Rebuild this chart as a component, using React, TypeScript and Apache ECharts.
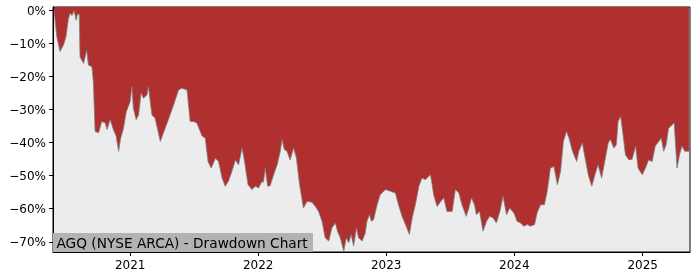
import React, { useEffect, useRef } from "react";
import * as echarts from "echarts";

const dates: string[] = [
  "2020-05-29","2020-06-06","2020-06-15","2020-06-25","2020-07-02","2020-07-09","2020-07-14","2020-07-19","2020-07-25","2020-07-31",
  "2020-08-04","2020-08-09","2020-08-11","2020-08-21","2020-08-30","2020-09-04","2020-09-14","2020-09-18","2020-09-23","2020-10-03",
  "2020-10-12","2020-10-22","2020-10-27","2020-11-05","2020-11-14","2020-11-22","2020-11-29","2020-12-05","2020-12-13","2020-12-21",
  "2021-01-01","2021-01-06","2021-01-10","2021-01-18","2021-01-25","2021-02-01","2021-02-08","2021-02-18","2021-02-22","2021-03-04",
  "2021-03-13","2021-03-28","2021-04-06","2021-04-20","2021-05-05","2021-05-19","2021-05-28","2021-06-12","2021-06-21","2021-07-01",
  "2021-07-10","2021-07-25","2021-08-03","2021-08-11","2021-08-20","2021-09-01","2021-09-10","2021-09-20","2021-09-29","2021-10-08",
  "2021-10-18","2021-10-28","2021-11-06","2021-11-16","2021-11-23","2021-12-03","2021-12-14","2021-12-24","2022-01-02","2022-01-12",
  "2022-01-16","2022-01-21","2022-01-28","2022-02-04","2022-02-14","2022-02-24","2022-03-05","2022-03-10","2022-03-16","2022-03-24",
  "2022-04-02","2022-04-12","2022-04-20","2022-04-29","2022-05-10","2022-05-20","2022-06-03","2022-06-13","2022-06-22","2022-07-02",
  "2022-07-11","2022-07-21","2022-07-30","2022-08-09","2022-08-15","2022-08-23","2022-09-02","2022-09-09","2022-09-16","2022-09-23",
  "2022-09-30","2022-10-08","2022-10-14","2022-10-24","2022-11-02","2022-11-07","2022-11-14","2022-11-20","2022-11-26","2022-12-06",
  "2022-12-15","2022-12-30","2023-01-13","2023-01-27","2023-02-05","2023-02-15","2023-02-25","2023-03-08","2023-03-16","2023-03-25",
  "2023-04-04","2023-04-13","2023-04-23","2023-05-07","2023-05-12","2023-05-16","2023-05-26","2023-06-04","2023-06-14","2023-06-23",
  "2023-07-08","2023-07-17","2023-07-27","2023-08-05","2023-08-17","2023-08-24","2023-09-01","2023-09-10","2023-09-15","2023-09-24",
  "2023-10-04","2023-10-14","2023-10-23","2023-11-02","2023-11-11","2023-11-21","2023-11-30","2023-12-10","2023-12-19","2023-12-31",
  "2024-01-09","2024-01-19","2024-01-28","2024-02-07","2024-02-16","2024-02-28","2024-03-06","2024-03-16","2024-03-27","2024-04-04",
  "2024-04-13","2024-04-23","2024-05-03","2024-05-12","2024-05-20","2024-05-29","2024-06-05","2024-06-15","2024-06-21","2024-06-27",
  "2024-07-03","2024-07-13","2024-07-21","2024-07-30","2024-08-09","2024-08-18","2024-08-27","2024-09-06","2024-09-15","2024-09-25",
  "2024-10-01","2024-10-11","2024-10-18","2024-10-23","2024-10-30","2024-11-05","2024-11-13","2024-11-23","2024-12-02","2024-12-12",
  "2024-12-19","2024-12-31","2025-01-09","2025-01-18","2025-01-28","2025-02-06","2025-02-16","2025-02-23","2025-03-02","2025-03-09",
  "2025-03-16","2025-03-26","2025-04-01","2025-04-09","2025-04-16","2025-04-23","2025-05-01","2025-05-13"
];

const drawdown: number[] = [
  0,-8,-12.4,-10.4,-7.9,-2.4,-0.8,-1.5,0,-2.9,
  -1,-1.2,-14,-16,-12,-16.5,-17,-21.5,-36.6,-37,
  -33.6,-34,-36,-33,-36,-38,-42.6,-38.6,-35.6,-30.6,
  -27.5,-23,-29.5,-33,-31.6,-25,-26.5,-25.5,-23,-31.6,
  -32.6,-39.6,-37,-33,-28.5,-24,-23.5,-24,-33.6,-33.6,
  -34,-38,-38.6,-45.7,-47.7,-44.7,-45.7,-50.7,-53.2,-51.7,
  -48.7,-45.2,-46.7,-41.6,-45.7,-52.7,-54.2,-53.2,-53.7,-51.7,
  -52,-47.7,-53.2,-53,-49.7,-46.7,-42.6,-39,-42,-42.6,
  -45.2,-41.6,-44.7,-52.7,-59.8,-57.8,-58,-59.3,-60.8,-63.8,
  -68.8,-69.8,-65.8,-64.3,-66.8,-68.8,-72.9,-68.8,-70.3,-67.8,
  -71.3,-65.8,-68.8,-69.8,-67.5,-63.8,-61.8,-63.8,-63.3,-58.8,
  -55.7,-54.2,-54.7,-55.2,-58.8,-62.3,-64.8,-67.8,-62.8,-58.8,
  -53.2,-50.7,-51.2,-49.7,-52.7,-55.7,-59.3,-58,-56.7,-60.8,
  -60.8,-54.2,-55.2,-58.8,-62.3,-60,-56.7,-59,-61.8,-60.8,
  -66.8,-63.8,-62.3,-62.8,-64.3,-60.8,-56.2,-61.8,-59.8,-61.3,
  -63.8,-64.3,-65.3,-64.8,-65.3,-64.8,-61.3,-58.8,-58.8,-54.7,
  -47.7,-47.2,-52.7,-48.7,-39.6,-36.6,-38.6,-42.6,-44.2,-45.7,
  -42.6,-40,-44.7,-49.7,-53.2,-49.7,-46.7,-50.7,-45.7,-40,
  -39,-41.6,-40.6,-33.6,-32,-36.6,-43.7,-45.2,-45,-41,
  -47.7,-49.7,-47.7,-45.2,-45.7,-41,-39.6,-38.6,-42.6,-40.6,
  -35.6,-34.6,-34,-47.7,-43.7,-41,-42.6,-42.6
];

const yTicks: number[] = [0, -10, -20, -30, -40, -50, -60, -70];
const yearTicks: number[] = [2021, 2022, 2023, 2024, 2025];
const titleText = "AGQ (NYSE ARCA) - Drawdown Chart";

const toTime = (s: string) => {
  const [y, m, d] = s.split("-").map(Number);
  return Date.UTC(y, m - 1, d);
};

export default function App() {
  const ref = useRef<HTMLDivElement>(null);
  useEffect(() => {
    if (!ref.current) return;
    const chart = echarts.init(ref.current, null, { renderer: "svg" });
    const yearValues = yearTicks.map((y) => Date.UTC(y, 0, 1));
    const font = "DejaVu Sans";
    chart.setOption({
      animation: false,
      grid: {
        left: 53,
        right: 10,
        top: 7,
        bottom: 28,
        show: true,
        backgroundColor: "#ececec",
        borderColor: "#000",
        borderWidth: 1,
        z: 0,
      },
      xAxis: {
        type: "value",
        min: toTime("2020-05-26"),
        max: toTime("2025-05-16"),
        axisLine: { show: true, onZero: false, lineStyle: { color: "#000", width: 1 } },
        axisTick: { show: true, customValues: yearValues, length: 4, lineStyle: { color: "#000" } },
        axisLabel: {
          customValues: yearValues,
          formatter: (v: number) => String(new Date(v).getUTCFullYear()),
          color: "#000",
          fontFamily: font,
          fontSize: 12,
          margin: 7,
        },
        splitLine: { show: false },
      },
      yAxis: {
        type: "value",
        min: -73.1,
        max: 1.1,
        axisLine: { show: true, onZero: false, lineStyle: { color: "#000", width: 1 } },
        axisTick: { show: true, customValues: yTicks, length: 4, lineStyle: { color: "#000" } },
        axisLabel: {
          customValues: yTicks,
          formatter: (v: number) => `${Math.round(v)}%`.replace("-", "\u2212"),
          color: "#000",
          fontFamily: font,
          fontSize: 12,
          margin: 7,
        },
        splitLine: { show: false },
      },
      series: [
        {
          type: "line",
          data: dates.map((d, i) => [toTime(d), drawdown[i]]),
          showSymbol: false,
          symbol: "none",
          lineStyle: { color: "#7f7f7f", width: 0.8 },
          areaStyle: { origin: "end", color: "#b03030", opacity: 1 },
          z: 2,
        },
      ],
      graphic: [
        {
          type: "rect",
          shape: { x: 53, y: 233, width: 260, height: 19 },
          style: { fill: "#b3b3b3" },
          z: 10,
        },
        {
          type: "text",
          x: 56.5,
          y: 243,
          style: {
            text: titleText,
            fill: "#000",
            font: `13.7px "${font}"`,
            verticalAlign: "middle",
          },
          z: 11,
        },
      ],
    });
    return () => chart.dispose();
  }, []);
  return (
    <div
      ref={ref}
      style={{ position: "fixed", left: 0, top: 0, width: 700, height: 280 }}
    />
  );
}
